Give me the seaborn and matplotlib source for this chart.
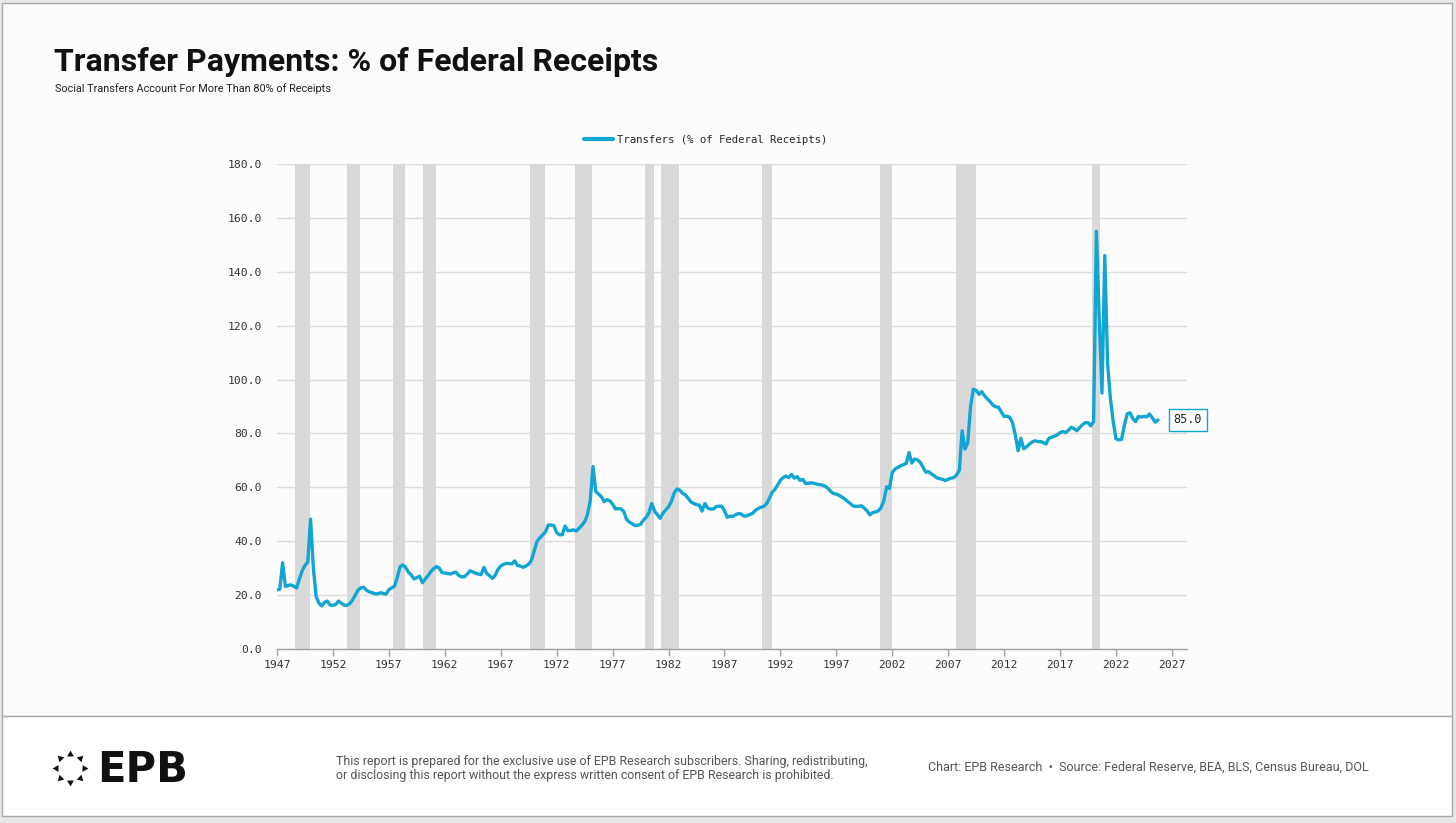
import numpy as np
import matplotlib
matplotlib.use("Agg")
import matplotlib.pyplot as plt
import seaborn as sns
from matplotlib.patches import Rectangle
from matplotlib.lines import Line2D

# ---------------- data (quarterly, 1947Q1 onward) ----------------
START_YEAR = 1947
values = [
    21.9, 22.2, 32.0, 23.2,   # 1947
    23.6, 23.8, 23.3, 22.6,   # 1948
    26.0, 29.0, 31.0, 32.3,   # 1949
    48.2, 30.0, 19.5, 17.0,   # 1950
    16.0, 17.3, 17.8, 16.3,   # 1951
    16.2, 16.5, 17.8, 17.0,   # 1952
    16.3, 16.2, 16.8, 18.2,   # 1953
    20.0, 21.9, 22.7, 22.9,   # 1954
    21.8, 21.2, 20.9, 20.5,   # 1955
    20.5, 20.9, 20.6, 20.4,   # 1956
    22.0, 22.7, 23.3, 26.5,   # 1957
    30.5, 31.2, 30.3, 28.5,   # 1958
    27.5, 26.0, 26.5, 27.0,   # 1959
    24.6, 26.0, 27.2, 28.7,   # 1960
    29.8, 30.6, 30.0, 28.4,   # 1961
    28.2, 28.0, 27.8, 28.3,   # 1962
    28.5, 27.3, 26.8, 26.8,   # 1963
    27.8, 29.0, 28.6, 28.2,   # 1964
    27.8, 27.6, 30.3, 28.0,   # 1965
    27.2, 26.2, 27.3, 29.5,   # 1966
    30.8, 31.4, 31.8, 31.7,   # 1967
    31.6, 32.7, 31.0, 30.8,   # 1968
    30.3, 30.8, 31.5, 33.0,   # 1969
    36.5, 40.0, 41.3, 42.3,   # 1970
    43.5, 46.0, 46.0, 45.8,   # 1971
    43.2, 42.4, 42.4, 45.6,   # 1972
    43.9, 44.0, 44.2, 43.8,   # 1973
    44.8, 45.9, 47.2, 49.8,   # 1974
    55.0, 67.7, 58.4, 57.5,   # 1975
    56.5, 54.7, 55.4, 55.0,   # 1976
    53.8, 52.0, 52.1, 52.0,   # 1977
    51.0, 48.1, 47.1, 46.5,   # 1978
    45.8, 45.9, 46.3, 47.8,   # 1979
    48.8, 50.6, 54.0, 51.2,   # 1980
    49.8, 48.5, 50.4, 51.6,   # 1981
    52.8, 54.7, 57.8, 59.4,   # 1982
    59.0, 57.8, 57.2, 56.0,   # 1983
    54.6, 54.0, 53.6, 53.4,   # 1984
    51.2, 54.0, 52.3, 52.0,   # 1985
    51.9, 52.8, 53.0, 53.0,   # 1986
    51.3, 48.9, 49.3, 49.2,   # 1987
    49.8, 50.3, 50.1, 49.3,   # 1988
    49.4, 49.9, 50.3, 51.4,   # 1989
    52.1, 52.6, 52.9, 53.8,   # 1990
    55.8, 58.0, 59.2, 60.8,   # 1991
    62.6, 63.6, 64.2, 63.6,   # 1992
    64.8, 63.4, 64.0, 62.6,   # 1993
    63.0, 61.4, 61.5, 61.7,   # 1994
    61.5, 61.2, 61.0, 60.8,   # 1995
    60.4, 59.6, 58.5, 57.7,   # 1996
    57.5, 57.0, 56.4, 55.7,   # 1997
    54.8, 54.0, 53.1, 52.9,   # 1998
    53.0, 53.1, 52.3, 51.3,   # 1999
    49.8, 50.6, 50.9, 51.2,   # 2000
    52.5, 55.0, 60.2, 59.6,   # 2001
    65.5, 66.8, 67.4, 68.0,   # 2002
    68.4, 68.9, 72.9, 69.0,   # 2003
    70.5, 70.2, 69.3, 67.5,   # 2004
    65.6, 65.8, 65.0, 64.3,   # 2005
    63.5, 63.2, 63.0, 62.5,   # 2006
    63.0, 63.4, 63.6, 64.6,   # 2007
    66.4, 81.0, 74.2, 76.5,   # 2008
    90.0, 96.4, 96.0, 94.5,   # 2009
    95.5, 94.0, 92.8, 91.8,   # 2010
    90.5, 89.9, 89.7, 88.0,   # 2011
    86.3, 86.4, 86.0, 84.0,   # 2012
    79.5, 73.6, 78.2, 74.3,   # 2013
    75.0, 76.0, 76.8, 77.3,   # 2014
    77.0, 77.0, 76.6, 76.1,   # 2015
    78.2, 78.6, 79.0, 79.5,   # 2016
    80.3, 80.7, 80.3, 81.2,   # 2017
    82.3, 81.8, 81.0, 82.2,   # 2018
    83.2, 84.0, 84.0, 82.8,   # 2019
    84.4, 155.0, 123.0, 95.0,  # 2020
    146.0, 106.0, 93.0, 84.5,  # 2021
    78.0, 77.6, 77.8, 83.0,   # 2022
    87.2, 87.7, 85.6, 84.4,   # 2023
    86.3, 86.1, 86.3, 86.2,   # 2024
    87.2, 85.8, 84.2, 85.0,   # 2025
]
quarter_years = START_YEAR + np.arange(len(values)) * 0.25

recession_start = [1948.61, 1953.28, 1957.39, 1960.07, 1969.61, 1973.64,
                   1979.89, 1981.32, 1990.38, 2000.89, 2007.68, 2019.90]
recession_end = [1949.95, 1954.42, 1958.44, 1961.18, 1970.95, 1975.18,
                 1980.72, 1982.96, 1991.22, 2001.96, 2009.53, 2020.56]

x_ticks = list(range(1947, 2028, 5))
y_ticks = list(range(0, 181, 20))

series_label = "Transfers (% of Federal Receipts)"
title = "Transfer Payments: % of Federal Receipts"
subtitle = "Social Transfers Account For More Than 80% of Receipts"
disclaimer_1 = ("This report is prepared for the exclusive use of EPB Research subscribers. "
                "Sharing, redistributing,")
disclaimer_2 = ("or disclosing this report without the express written consent of "
                "EPB Research is prohibited.")
source_text = "Chart: EPB Research  \u2022  Source: Federal Reserve, BEA, BLS, Census Bureau, DOL"

# ---------------- style ----------------
sns.set_theme(style="white")
plt.rcParams['font.family'] = ['Roboto', 'DejaVu Sans']
MONO = 'DejaVu Sans Mono'
LINE_C = '#10a5d2'
W, H = 1456, 823

def fx(px):
    return px / W

def fy(py):
    return 1 - py / H

fig = plt.figure(figsize=(W / 100, H / 100), dpi=100)
fig.patch.set_facecolor('#e8e8e8')

# card backgrounds (behind everything)
fig.patches.append(Rectangle((fx(2), fy(716)), fx(1452) - fx(2), fy(3) - fy(716),
                             transform=fig.transFigure, facecolor='#fcfcfa',
                             edgecolor='#a9a9a9', lw=1, zorder=-10))
fig.patches.append(Rectangle((fx(2), fy(816)), fx(1452) - fx(2), fy(716) - fy(816),
                             transform=fig.transFigure, facecolor='#ffffff',
                             edgecolor='#a9a9a9', lw=1, zorder=-10))

# ---------------- main axes ----------------
ax = fig.add_axes([fx(277), fy(649), fx(1187) - fx(277), fy(164) - fy(649)])
ax.set_facecolor('#fcfcfa')
ax.set_zorder(1)

for s, e in zip(recession_start, recession_end):
    ax.axvspan(s, e, color='#d9d9d9', lw=0, zorder=1)

sns.lineplot(x=quarter_years, y=values, ax=ax, color=LINE_C, linewidth=2.4,
             zorder=3, legend=False)

ax.set_xlim(1947, 2028.35)
ax.set_ylim(0, 180)
ax.set_xticks(x_ticks)
ax.set_xticklabels([str(t) for t in x_ticks], fontfamily=MONO, fontsize=8.2, color='#333333')
ax.set_yticks(y_ticks)
ax.set_yticklabels([f"{t:.1f}" for t in y_ticks], fontfamily=MONO, fontsize=8.2, color='#333333')
ax.yaxis.grid(True, color='#dddddd', lw=1, zorder=0.5)
ax.xaxis.grid(False)
ax.set_axisbelow(True)
for side in ['top', 'right', 'left']:
    ax.spines[side].set_visible(False)
ax.spines['bottom'].set_color('#a0a0a0')
ax.spines['bottom'].set_linewidth(1)
ax.tick_params(axis='x', length=5, width=1, color='#a0a0a0', pad=3, direction='out', bottom=True)
ax.tick_params(axis='y', length=0, pad=11)
ax.set_xlabel('')
ax.set_ylabel('')

# end-value label
ax.annotate(f"{values[-1]:.1f}", xy=(quarter_years[-1], values[-1]),
            xytext=(30, 0), textcoords='offset pixels', ha='center', va='center',
            fontfamily=MONO, fontsize=8.5, color='#222222', zorder=5,
            annotation_clip=False,
            bbox=dict(boxstyle='square,pad=0.4', fc='white', ec=LINE_C, lw=1))

# legend
handle = Line2D([0], [0], color=LINE_C, lw=3)
fig.legend([handle], [series_label], loc='center',
           bbox_to_anchor=(fx(706), fy(140)), bbox_transform=fig.transFigure,
           frameon=False, handlelength=2.7, handletextpad=0.4,
           prop={'family': MONO, 'size': 7.7})

# ---------------- titles ----------------
fig.text(fx(54), fy(71), title, fontsize=23, fontweight='bold', color='#111111',
         va='baseline', ha='left')
fig.text(fx(55), fy(92), subtitle, fontsize=7.8, color='#222222', va='baseline', ha='left')

# ---------------- footer ----------------
logo_ax = fig.add_axes([fx(52), fy(785), fx(88) - fx(52), fy(751) - fy(785)])
logo_ax.set_xlim(-1.25, 1.25)
logo_ax.set_ylim(-1.25, 1.25)
logo_ax.axis('off')
logo_ax.set_zorder(2)
for k in range(8):
    ang = np.pi / 2 + k * np.pi / 4
    logo_ax.scatter([np.cos(ang)], [np.sin(ang)], marker=(3, 0, np.degrees(ang) - 90),
                    s=32, color='#111111', lw=0)

fig.text(fx(97), fy(782), "EPB", fontsize=30, fontweight='bold', color='#111111',
         fontfamily='DejaVu Sans', va='baseline', ha='left')
fig.text(fx(336), fy(765), disclaimer_1, fontsize=8.9, color='#555555', va='baseline')
fig.text(fx(336), fy(779), disclaimer_2, fontsize=8.9, color='#555555', va='baseline')
fig.text(fx(928), fy(771), source_text, fontsize=9.0, color='#555555', va='baseline')

fig.savefig('out.png', dpi=100, facecolor=fig.get_facecolor())
